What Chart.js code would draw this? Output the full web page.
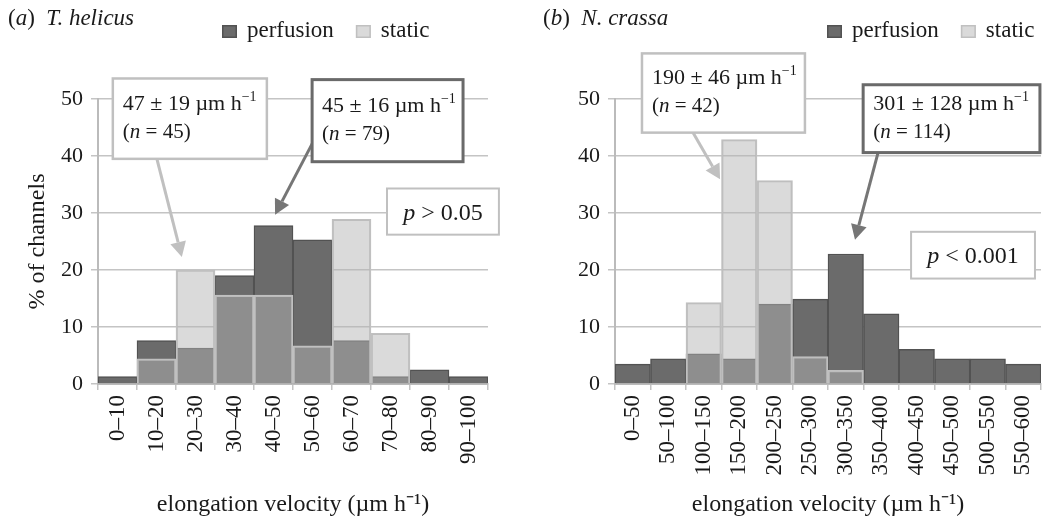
<!DOCTYPE html>
<html>
<head>
<meta charset="utf-8">
<script src="https://cdn.jsdelivr.net/npm/chart.js@4/dist/chart.umd.min.js"></script>
<style>
  html, body { margin: 0; padding: 0; background: #fff; }
  #wrap { position: relative; width: 1045px; height: 520px; }
  #panel-a { position: absolute; left: 0; top: 0; }
  #panel-b { position: absolute; left: 520px; top: 0; }
</style>
</head>
<body>
<div id="wrap">
  <canvas id="panel-a" width="520" height="520"></canvas>
  <canvas id="panel-b" width="525" height="520"></canvas>
</div>
<script>
// (a) T. helicus, % of channels per 10 um/h bin
const binsA = ["0–10", "10–20", "20–30", "30–40", "40–50", "50–60", "60–70", "70–80", "80–90", "90–100"];
const perfusionA = [1.3, 7.6, 6.3, 19.0, 27.8, 25.3, 7.6, 1.3, 2.5, 1.3];
const staticA = [0, 4.4, 20.0, 15.6, 15.6, 6.7, 28.9, 8.9, 0, 0];
const meanA = ["47 ± 19", "45 ± 16"]; // static, perfusion
const countA = [45, 79];
const pA = "> 0.05";

// (b) N. crassa, % of channels per 50 um/h bin
const binsB = ["0–50", "50–100", "100–150", "150–200", "200–250", "250–300", "300–350",
  "350–400", "400–450", "450–500", "500–550", "550–600"];
const perfusionB = [3.5, 4.4, 5.3, 4.4, 14.0, 14.9, 22.8, 12.3, 6.1, 4.4, 4.4, 3.5];
const staticB = [0, 0, 14.3, 42.9, 35.7, 4.8, 2.4, 0, 0, 0, 0, 0];
const meanB = ["190 ± 46", "301 ± 128"];
const countB = [42, 114];
const pB = "< 0.001";

const SERIF = "'Liberation Serif', 'Times New Roman', serif";
const INK = "#1a1a1a";
const GRID = "#c4c4c4";
const LIGHT = "#c0c0c0";
const DARK = "#6a6a6a";

// draw a run of text pieces, style '' | 'i' | 'sup'
function drawRich(ctx, x, y, parts, size, align) {
  const fontFor = (s) => (s === "i" ? "italic " : "") +
    (s === "sup" ? Math.round(size * 0.62) : size) + "px " + SERIF;
  let total = 0;
  for (const [t, s] of parts) { ctx.font = fontFor(s); total += ctx.measureText(t).width; }
  let cx = align === "center" ? x - total / 2 : x;
  ctx.textBaseline = "alphabetic";
  ctx.textAlign = "left";
  ctx.fillStyle = INK;
  for (const [t, s] of parts) {
    ctx.font = fontFor(s);
    ctx.fillText(t, cx, s === "sup" ? y - size * 0.4 : y);
    cx += ctx.measureText(t).width;
  }
}

function arrow(ctx, x1, y1, x2, y2, color, lw) {
  const ang = Math.atan2(y2 - y1, x2 - x1);
  const head = 15, half = 8;
  const bx = x2 - head * Math.cos(ang), by = y2 - head * Math.sin(ang);
  ctx.strokeStyle = color;
  ctx.lineWidth = lw;
  ctx.beginPath(); ctx.moveTo(x1, y1); ctx.lineTo(bx, by); ctx.stroke();
  ctx.fillStyle = color;
  ctx.beginPath();
  ctx.moveTo(x2, y2);
  ctx.lineTo(bx + half * Math.sin(ang), by - half * Math.cos(ang));
  ctx.lineTo(bx - half * Math.sin(ang), by + half * Math.cos(ang));
  ctx.closePath();
  ctx.fill();
}

// title, legend and callouts; callouts are placed in bin / percent units
const decor = {
  id: "decor",
  afterDraw(chart, args, o) {
    const { ctx, scales: { x, y } } = chart;
    const px = (u) => x.getPixelForValue(u - 0.5);
    const py = (v) => y.getPixelForValue(v);
    ctx.save();

    drawRich(ctx, o.titleX, 25, o.title, 23, "left");

    // legend
    let lx = o.legendX;
    chart.data.datasets.forEach((ds) => {
      ctx.fillStyle = "#fff";
      ctx.fillRect(lx, 25, 15, 13);
      ctx.fillStyle = ds.backgroundColor;
      ctx.fillRect(lx, 25, 15, 13);
      ctx.strokeStyle = ds.borderColor;
      ctx.lineWidth = 1.5;
      ctx.strokeRect(lx + 0.75, 25.75, 13.5, 11.5);
      ctx.font = "23px " + SERIF;
      ctx.fillStyle = INK;
      ctx.textAlign = "left";
      ctx.textBaseline = "alphabetic";
      ctx.fillText(ds.label, lx + 25, 37);
      lx += 25 + ctx.measureText(ds.label).width + 22;
    });

    for (const a of o.arrows) {
      arrow(ctx, px(a.from[0]), py(a.from[1]), px(a.to[0]), py(a.to[1]), a.color, 3);
    }

    for (const b of o.boxes) {
      const x1 = px(b.u[0]), x2 = px(b.u[1]), y1 = py(b.v[0]), y2 = py(b.v[1]);
      ctx.fillStyle = "#fff";
      ctx.fillRect(x1, y1, x2 - x1, y2 - y1);
      ctx.strokeStyle = b.color;
      ctx.lineWidth = b.lw;
      ctx.strokeRect(x1, y1, x2 - x1, y2 - y1);
      const cy = (y1 + y2) / 2;
      if (b.lines.length === 1) {
        drawRich(ctx, (x1 + x2) / 2, cy + 8, b.lines[0], 24, "center");
      } else {
        drawRich(ctx, x1 + 10, cy - 16 + 7, b.lines[0], 22, "left");
        drawRich(ctx, x1 + 10, cy + 12 + 7, b.lines[1], 21, "left");
      }
    }
    ctx.restore();
  }
};

const statLines = (mean, n) => [
  [[mean + " µm h", ""], ["−1", "sup"]],
  [["(", ""], ["n", "i"], [" = " + n + ")", ""]]
];
const pLine = (p) => [[["p", "i"], [" " + p, ""]]];

function makeChart(id, bins, perf, stat, o) {
  return new Chart(document.getElementById(id), {
    type: "bar",
    data: {
      labels: bins,
      datasets: [
        { label: "perfusion", data: perf, backgroundColor: "#6b6b6b", borderColor: "#525252", borderWidth: 1.5, order: 1 },
        { label: "static", data: stat, backgroundColor: "rgba(179,179,179,0.49)", borderColor: LIGHT, borderWidth: 1.5, order: 0 }
      ]
    },
    options: {
      responsive: false,
      animation: false,
      devicePixelRatio: 1,
      datasets: { bar: { grouped: false, barPercentage: 1, categoryPercentage: 1 } },
      layout: { padding: { top: 99, right: o.padRight, bottom: 0, left: 0 } },
      plugins: {
        legend: { display: false },
        tooltip: { enabled: false },
        decor: o
      },
      scales: {
        x: {
          offset: true,
          grid: { offset: true, drawOnChartArea: false, drawTicks: true, tickLength: 6, color: GRID, lineWidth: 1.5 },
          border: { color: "#bbbbbb", width: 2 },
          ticks: { autoSkip: false, minRotation: 90, maxRotation: 90, padding: 5, color: INK, font: { family: SERIF, size: 23 } },
          title: {
            display: true, text: "elongation velocity (µm h⁻¹)", color: INK,
            font: { family: SERIF, size: 24 }, padding: { top: 0, bottom: 1 }
          },
          afterFit: (s) => { s.height = 136; s.paddingLeft = 0; s.paddingRight = 0; }
        },
        y: {
          min: 0, max: 50,
          ticks: { stepSize: 10, padding: 8, color: INK, font: { family: SERIF, size: 22 } },
          grid: { color: GRID, lineWidth: 1.5, tickLength: 7 },
          border: { color: "#bbbbbb", width: 2 },
          title: {
            display: o.yTitle, text: "% of channels", color: INK,
            font: { family: SERIF, size: 24 }, padding: { top: 23, bottom: 0 }
          },
          afterFit: (s) => { s.width = o.yWidth; s.paddingTop = 0; s.paddingBottom = 0; }
        }
      }
    },
    plugins: [decor]
  });
}

makeChart("panel-a", binsA, perfusionA, staticA, {
  padRight: 32, yWidth: 98, yTitle: true,
  titleX: 8, title: [["(", ""], ["a", "i"], [")", ""], ["  T. helicus", "i"]],
  legendX: 222,
  arrows: [
    { from: [1.51, 39.5], to: [2.15, 22.3], color: LIGHT },
    { from: [5.51, 42.4], to: [4.54, 29.7], color: "#767676" }
  ],
  boxes: [
    { u: [0.38, 4.33], v: [53.6, 39.5], color: LIGHT, lw: 2.5, lines: statLines(meanA[0], countA[0]) },
    { u: [5.49, 9.36], v: [53.4, 39.0], color: DARK, lw: 3, lines: statLines(meanA[1], countA[1]) },
    { u: [7.41, 10.28], v: [34.3, 26.2], color: LIGHT, lw: 2, lines: pLine(pA) }
  ]
});

makeChart("panel-b", binsB, perfusionB, staticB, {
  padRight: 4, yWidth: 95, yTitle: false,
  titleX: 23, title: [["(", ""], ["b", "i"], [")", ""], ["  N. crassa", "i"]],
  legendX: 307,
  arrows: [
    { from: [2.2, 44.1], to: [2.96, 35.9], color: LIGHT },
    { from: [7.41, 40.6], to: [6.76, 25.3], color: "#767676" }
  ],
  boxes: [
    { u: [0.76, 5.35], v: [58.0, 44.1], color: LIGHT, lw: 2.5, lines: statLines(meanB[0], countB[0]) },
    { u: [6.99, 11.97], v: [52.5, 40.6], color: DARK, lw: 3, lines: statLines(meanB[1], countB[1]) },
    { u: [8.34, 11.83], v: [26.7, 18.5], color: LIGHT, lw: 2, lines: pLine(pB) }
  ]
});
</script>
</body>
</html>
